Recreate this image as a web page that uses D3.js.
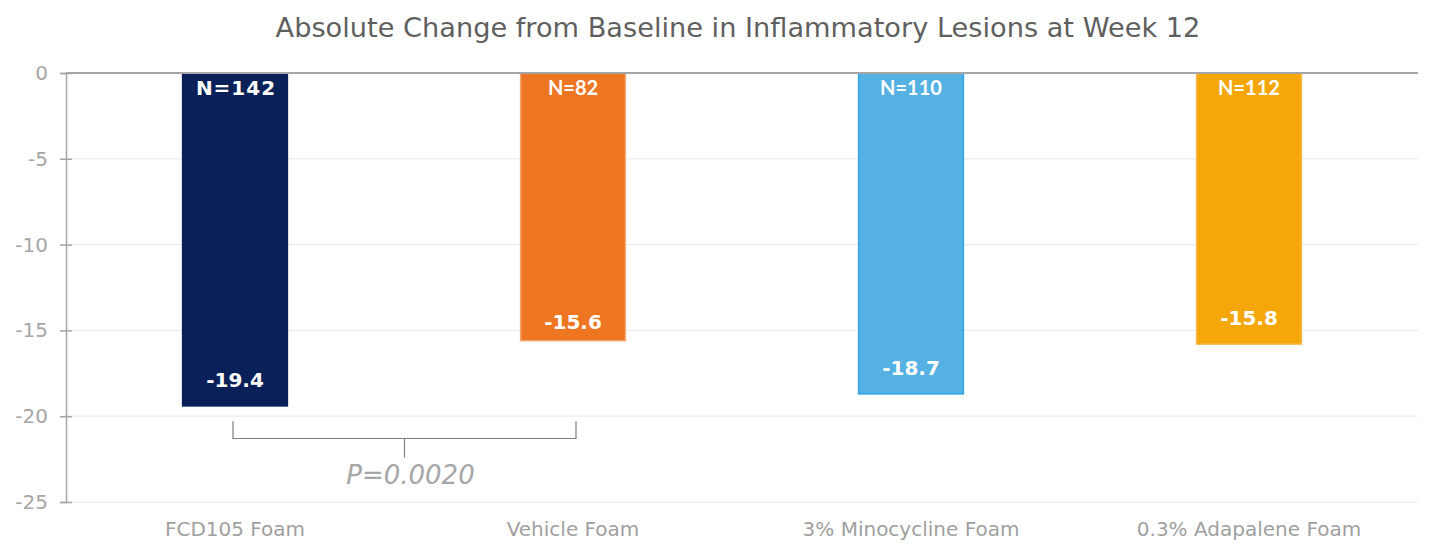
<!DOCTYPE html>
<html><head><meta charset="utf-8">
<script src="https://cdn.jsdelivr.net/npm/d3@7"></script>
<style>body{margin:0;background:#fff}svg{display:block}</style>
</head><body>
<svg id="c" width="1447" height="554"></svg>
<script>
const categories = ["FCD105 Foam", "Vehicle Foam", "3% Minocycline Foam", "0.3% Adapalene Foam"];
const values = [-19.4, -15.6, -18.7, -15.8];
const nLabels = ["N=142", "N=82", "N=110", "N=112"];
const colors = ["#0a2058", "#ee7623", "#56b1e3", "#f5a70a"];
const strokes = ["#0a2058", "#f3a56e", "#2ea6e6", "#f5b845"];
const yTicks = [0, -5, -10, -15, -20, -25];
const pValueText = "P=0.0020";
const bracketPair = [0, 1];

const svg = d3.select("#c");
const W = 1447, H = 554;
const m = {left: 66, right: 29, top: 73, bottom: 52};
const x = d3.scaleBand().domain(categories).range([m.left, W - m.right]).paddingInner(0.69).paddingOuter(0.345);
const y = d3.scaleLinear().domain([0, -25]).range([m.top, H - m.bottom]);

svg.append("text").attr("x", 738).attr("y", 37).attr("text-anchor", "middle")
  .attr("font-family", "DejaVu Sans").attr("font-size", 27.2).attr("fill", "#5f5f5f")
  .text("Absolute Change from Baseline in Inflammatory Lesions at Week 12");

// gridlines
svg.append("g").selectAll("line").data(yTicks.filter(d => d !== 0)).join("line")
  .attr("x1", m.left).attr("x2", W - m.right).attr("y1", d => y(d)).attr("y2", d => y(d))
  .attr("stroke", "#e8e8e8").attr("stroke-width", 1);

// y axis
const yAxis = svg.append("g").attr("transform", `translate(${m.left},0)`)
  .call(d3.axisLeft(y).tickValues(yTicks).tickSize(6).tickFormat(d => d3.format("d")(d).replace("−", "-")));
yAxis.select(".domain").attr("stroke", "#a6a6a6").attr("stroke-width", 1.5);
yAxis.selectAll(".tick line").attr("stroke", "#a6a6a6").attr("x1", 6).attr("x2", -6).attr("stroke-width", 1.5);
yAxis.selectAll(".tick text").attr("x", -18).attr("font-family", "DejaVu Sans").attr("font-size", 20).attr("fill", "#a6a6a6");

// bars
svg.append("g").selectAll("rect").data(values).join("rect")
  .attr("x", (d, i) => x(categories[i])).attr("width", x.bandwidth())
  .attr("y", y(0)).attr("height", d => y(d) - y(0))
  .attr("fill", (d, i) => colors[i]).attr("stroke", (d, i) => strokes[i]).attr("stroke-width", 1.5);

// zero line
svg.append("line").attr("x1", m.left).attr("x2", W - m.right).attr("y1", y(0)).attr("y2", y(0))
  .attr("stroke", "#a6a6a6").attr("stroke-width", 2);

// N labels
svg.append("g").selectAll("text").data(nLabels).join("text")
  .attr("x", (d, i) => x(categories[i]) + x.bandwidth() / 2 + (i === 0 ? 1 : 0)).attr("y", y(0) + 22)
  .attr("text-anchor", "middle").attr("fill", "#fff").attr("font-weight", "bold")
  .attr("font-family", (d, i) => i === 0 ? "DejaVu Sans" : "Lato").attr("font-size", 20)
  .attr("letter-spacing", (d, i) => i === 0 ? 1 : 0)
  .text(d => d);

// value labels
svg.append("g").selectAll("text").data(values).join("text")
  .attr("x", (d, i) => x(categories[i]) + x.bandwidth() / 2).attr("y", (d, i) => y(d) - (i === 1 ? 12 : 19))
  .attr("text-anchor", "middle").attr("fill", "#fff").attr("font-weight", "bold")
  .attr("font-family", "DejaVu Sans").attr("font-size", 20)
  .text(d => d.toFixed(1));

// x labels
svg.append("g").selectAll("text").data(categories).join("text")
  .attr("x", d => x(d) + x.bandwidth() / 2).attr("y", 536)
  .attr("text-anchor", "middle").attr("fill", "#a0a0a0")
  .attr("font-family", "DejaVu Sans").attr("font-size", 20).text(d => d);

// bracket
const xa = x(categories[bracketPair[0]]) + x.bandwidth() / 2 - 2;
const xb = x(categories[bracketPair[1]]) + x.bandwidth() / 2 + 3;
const yTop = y(-20.3), yMid = y(-21.3), yBot = y(-22.4);
svg.append("path").attr("d", `M${xa},${yTop}V${yMid}H${xb}V${yTop}M${(xa + xb) / 2},${yMid}V${yBot}`)
  .attr("fill", "none").attr("stroke", "#7f7f7f").attr("stroke-width", 1.2);
svg.append("text").attr("x", (xa + xb) / 2 + 6).attr("y", 484).attr("text-anchor", "middle")
  .attr("font-family", "DejaVu Sans").attr("font-style", "italic").attr("font-size", 26).attr("fill", "#a6a6a6")
  .text(pValueText);
</script>
</body></html>
